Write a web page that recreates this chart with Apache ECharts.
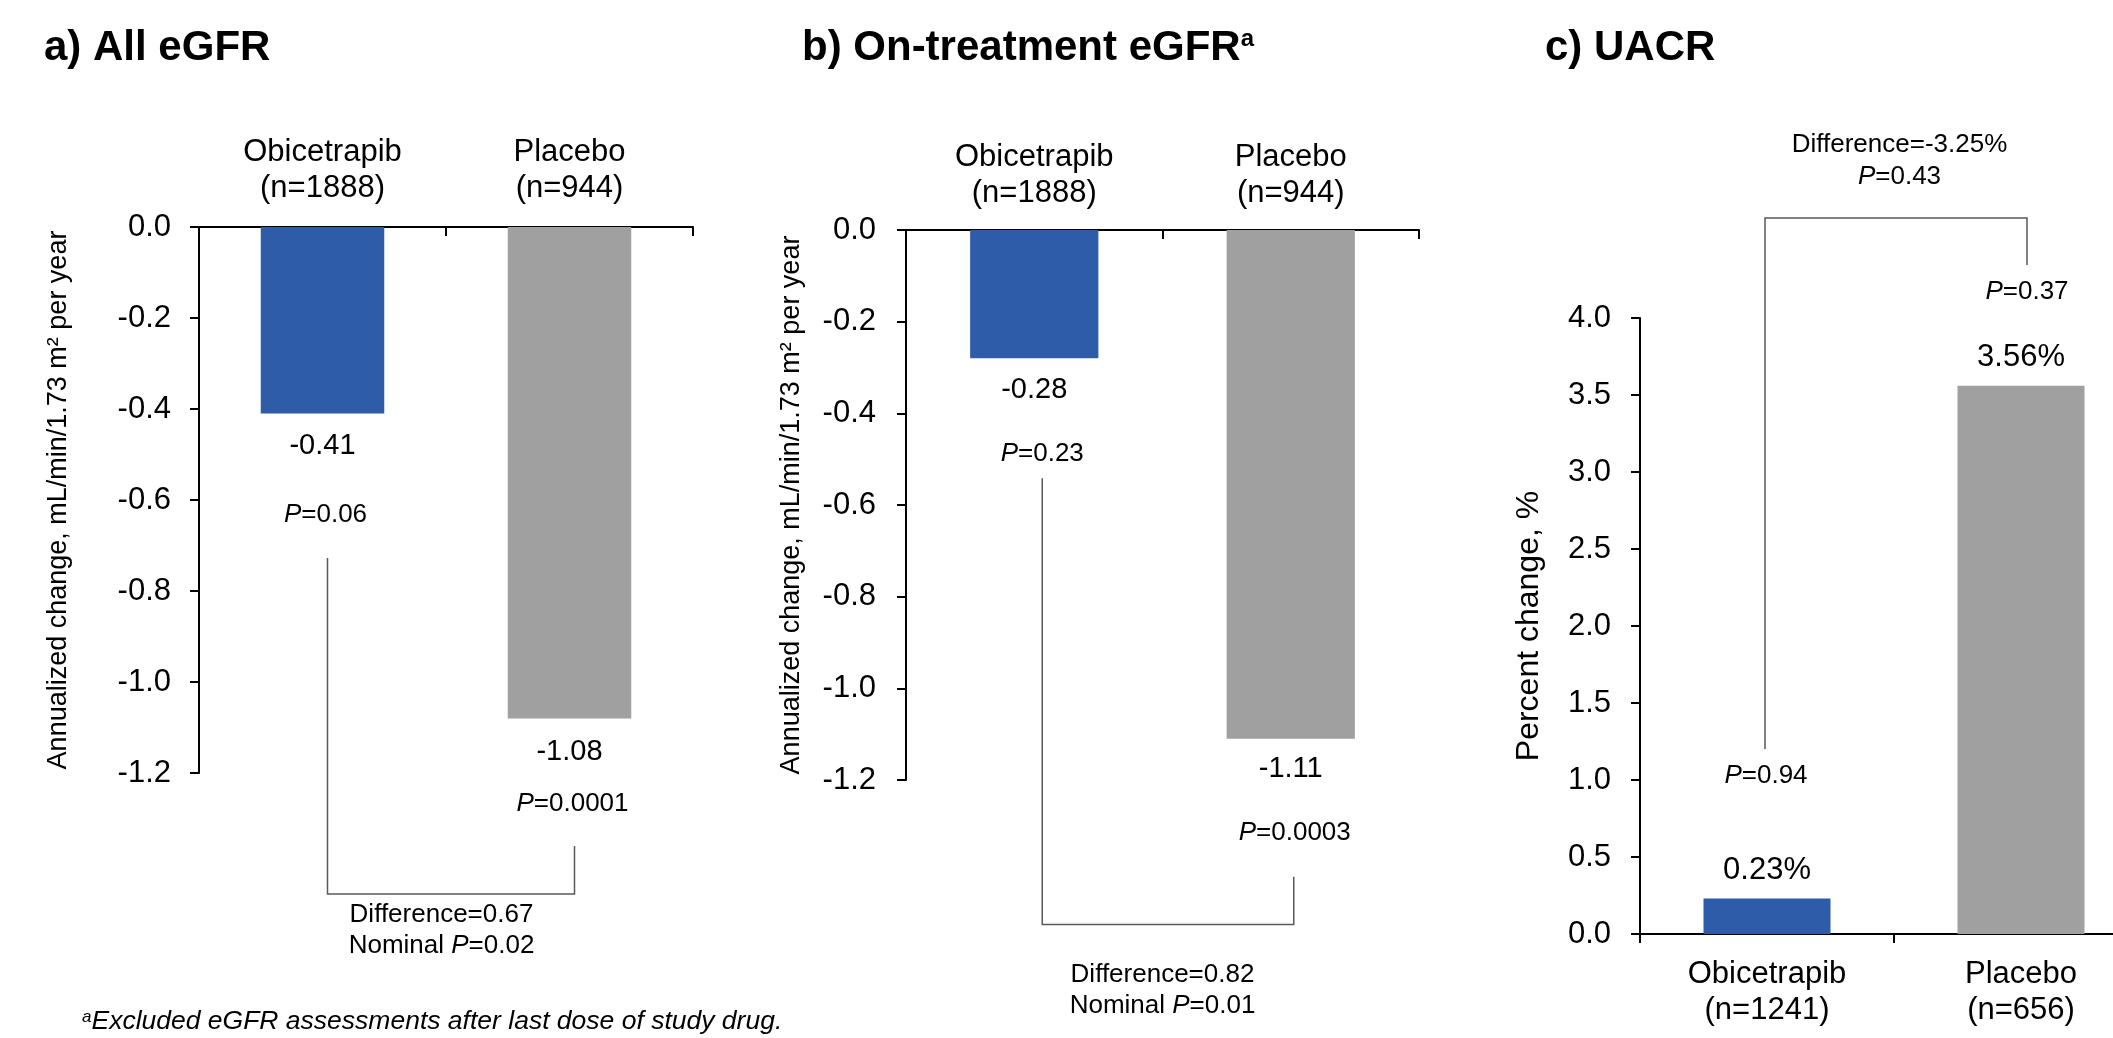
<!DOCTYPE html>
<html><head><meta charset="utf-8">
<script src="https://cdn.jsdelivr.net/npm/echarts@6/dist/echarts.min.js"></script>
<style>html,body{margin:0;padding:0;background:#fff}#c{width:2113px;height:1038px}</style>
</head><body><div id="c"></div>
<script>
// ---------- DATA ----------
const catsA = ['Obicetrapib\n(n=1888)', 'Placebo\n(n=944)'];
const valsA = [-0.41, -1.08];
const pA = ['0.06', '0.0001'];
const diffA = ['Difference=0.67', 'Nominal ', '0.02'];

const catsB = ['Obicetrapib\n(n=1888)', 'Placebo\n(n=944)'];
const valsB = [-0.28, -1.11];
const pB = ['0.23', '0.0003'];
const diffB = ['Difference=0.82', 'Nominal ', '0.01'];

const catsC = ['Obicetrapib\n(n=1241)', 'Placebo\n(n=656)'];
const valsC = [0.23, 3.56];
const pC = ['0.94', '0.37'];
const diffC = ['Difference=-3.25%', '', '0.43'];

const ticksEGFR = [0.0, -0.2, -0.4, -0.6, -0.8, -1.0, -1.2];
const ticksUACR = [0.0, 0.5, 1.0, 1.5, 2.0, 2.5, 3.0, 3.5, 4.0];

const titles = ['a) All eGFR', 'b) On-treatment eGFR', 'c) UACR'];
const yNames = ['Annualized change, mL/min/1.73 m\u00B2 per year', 'Annualized change, mL/min/1.73 m\u00B2 per year', 'Percent change, %'];
const footnote = 'Excluded eGFR assessments after last dose of study drug.';

// ---------- STYLE ----------
const FONT = '"Liberation Sans", Arial, sans-serif';
const BLUE = '#2E5CA8', GRAY = '#A0A0A0', LINE = '#595959';
const COLORS = [BLUE, GRAY];

const chart = echarts.init(document.getElementById('c'), null, {renderer: 'canvas', width: 2113, height: 1038});

function xAx(gi, cats, pos, inside, margin) {
  return {
    type: 'category', gridIndex: gi, data: cats, position: pos, boundaryGap: true,
    axisLine: {show: true, onZero: false, lineStyle: {color: '#000', width: 2}},
    axisTick: {show: true, inside: inside, length: 9, alignWithLabel: false, lineStyle: {color: '#000', width: 2}},
    axisLabel: {fontSize: 31, fontFamily: FONT, color: '#000', lineHeight: 36, margin: margin, interval: 0},
    splitLine: {show: false}
  };
}
function yAx(gi, ticks, name, nameGap, nameSize, margin) {
  const mn = Math.min(...ticks), mx = Math.max(...ticks);
  return {
    type: 'value', gridIndex: gi, min: mn, max: mx, interval: Math.abs(ticks[1] - ticks[0]),
    axisLine: {show: true, onZero: false, lineStyle: {color: '#000', width: 2}},
    axisTick: {show: true, length: 9, lineStyle: {color: '#000', width: 2}},
    axisLabel: {fontSize: 31, fontFamily: FONT, color: '#000', margin: margin, formatter: v => (Math.abs(v) < 1e-9 ? 0 : v).toFixed(1)},
    splitLine: {show: false},
    name: name, nameLocation: 'middle', nameRotate: 90, nameGap: nameGap,
    nameTextStyle: {fontSize: nameSize, fontFamily: FONT, color: '#000'}
  };
}
function bars(i, vals) {
  return {
    type: 'bar', xAxisIndex: i, yAxisIndex: i, barWidth: '50%', silent: true,
    data: vals.map((v, k) => ({value: v, itemStyle: {color: COLORS[k]}}))
  };
}
function valLabels(i, vals, offs, suffix, size) {
  return {
    type: 'scatter', xAxisIndex: i, yAxisIndex: i, symbolSize: 1, silent: true, z: 5,
    itemStyle: {color: '#ffffff', opacity: 0},
    label: {show: true, position: 'inside', fontSize: size, fontFamily: FONT, color: '#000000',
      opacity: 1, textBorderWidth: 0, textShadowBlur: 0,
      formatter: p => p.value[1].toFixed(2) + suffix},
    data: vals.map((v, k) => ({value: [k, v], label: {offset: [0, offs[k]]}}))
  };
}

chart.setOption({
  animation: false,
  backgroundColor: '#fff',
  grid: [
    {left: 199, top: 227, width: 494, height: 546, outerBoundsMode: 'none', containLabel: false},
    {left: 906, top: 230, width: 513, height: 550, outerBoundsMode: 'none', containLabel: false},
    {left: 1640, top: 318, width: 508, height: 616, outerBoundsMode: 'none', containLabel: false}
  ],
  xAxis: [
    xAx(0, catsA, 'top', true, 21),
    xAx(1, catsB, 'top', true, 19),
    xAx(2, catsC, 'bottom', false, 22)
  ],
  yAxis: [
    yAx(0, ticksEGFR, yNames[0], 127, 27, 28),
    yAx(1, ticksEGFR, yNames[1], 101, 27, 30),
    yAx(2, ticksUACR, yNames[2], 95, 32, 29)
  ],
  series: [
    bars(0, valsA), valLabels(0, valsA, [32, 33.5], '', 29),
    bars(1, valsB), valLabels(1, valsB, [32, 30], '', 29),
    bars(2, valsC), valLabels(2, valsC, [-28, -28], '%', 31)
  ]
});

// ---------- ANNOTATIONS (positioned from the axes) ----------
const px = (g, i, v) => chart.convertToPixel({gridIndex: g}, [i, v]);
const G = [];
const richP = {i: {fontStyle: 'italic', fontSize: 26, fontFamily: FONT, fill: '#000'}, n: {fontSize: 26, fontFamily: FONT, fill: '#000'}};
function txt(x, y, text, extra) {
  G.push(Object.assign({type: 'text', silent: true, style: Object.assign({x: x, y: y, text: text, fill: '#000', fontSize: 26, fontFamily: FONT, align: 'center', verticalAlign: 'middle', rich: richP}, extra || {})}));
}
function pText(p) { return '{i|P}{n|=' + p + '}'; }
function bracket(pts) {
  G.push({type: 'polyline', silent: true, shape: {points: pts}, style: {stroke: LINE, lineWidth: 1.5, fill: null}});
}
function diffText(cx, y1, y2, d) {
  txt(cx, y1, '{n|' + d[0] + '}');
  txt(cx, y2, (d[1] ? '{n|' + d[1] + '}' : '') + pText(d[2]));
}

// panel a
(function () {
  const b0 = px(0, 0, valsA[0]), b1 = px(0, 1, valsA[1]);
  const xL = b0[0] + 5, xR = b1[0] + 5, yBot = b1[1] + 175.5;
  bracket([[xL, b0[1] + 144.5], [xL, yBot], [xR, yBot], [xR, b1[1] + 127.5]]);
  txt(xL - 2, b0[1] + 101.5, pText(pA[0]));
  txt(xR - 2, b1[1] + 85.5, pText(pA[1]));
  diffText((xL + xR) / 2 - 9.5, yBot + 21, yBot + 52, diffA);
})();
// panel b
(function () {
  const b0 = px(1, 0, valsB[0]), b1 = px(1, 1, valsB[1]);
  const xL = b0[0] + 8, xR = b1[0] + 3, yBot = b1[1] + 185.75;
  bracket([[xL, b0[1] + 120], [xL, yBot], [xR, yBot], [xR, b1[1] + 138]]);
  txt(xL, b0[1] + 95, pText(pB[0]));
  txt(xR + 1, b1[1] + 94, pText(pB[1]));
  diffText((xL + xR) / 2 - 5.5, yBot + 50.5, yBot + 81.5, diffB);
})();
// panel c
(function () {
  const b0 = px(2, 0, valsC[0]), b1 = px(2, 1, valsC[1]);
  const xL = b0[0] - 2, xR = b1[0] + 6, yTop = b1[1] - 167.8;
  bracket([[xL, b0[1] - 149.6], [xL, yTop], [xR, yTop], [xR, b1[1] - 120.8]]);
  txt(xL + 1, b0[1] - 122.6, pText(pC[0]));
  txt(xR, b1[1] - 93.8, pText(pC[1]));
  diffText((xL + xR) / 2 + 3.5, yTop - 73, yTop - 41, diffC);
})();

// titles
const tStyle = {fontSize: 42, fontWeight: 'bold', fontFamily: FONT, fill: '#000', align: 'left', verticalAlign: 'middle'};
G.push({type: 'text', silent: true, style: Object.assign({x: 44, y: 48, text: titles[0]}, tStyle)});
G.push({type: 'text', silent: true, style: Object.assign({x: 802, y: 48, text: '{t|' + titles[1] + '}{s|a}',
  rich: {t: {fontSize: 42, fontWeight: 'bold', fontFamily: FONT, fill: '#000'}, s: {fontSize: 24, fontWeight: 'bold', fontFamily: FONT, fill: '#000', verticalAlign: 'top'}}}, tStyle)});
G.push({type: 'text', silent: true, style: Object.assign({x: 1545, y: 48, text: titles[2]}, tStyle)});

// footnote
G.push({type: 'text', silent: true, style: {x: 82, y: 1022, align: 'left', verticalAlign: 'middle',
  text: '{s|a}{t|' + footnote + '}',
  rich: {s: {fontSize: 17, fontStyle: 'italic', fontFamily: FONT, fill: '#000', verticalAlign: 'top'},
         t: {fontSize: 26.5, fontStyle: 'italic', fontFamily: FONT, fill: '#000'}}}});

chart.setOption({graphic: G});
</script>
</body></html>
